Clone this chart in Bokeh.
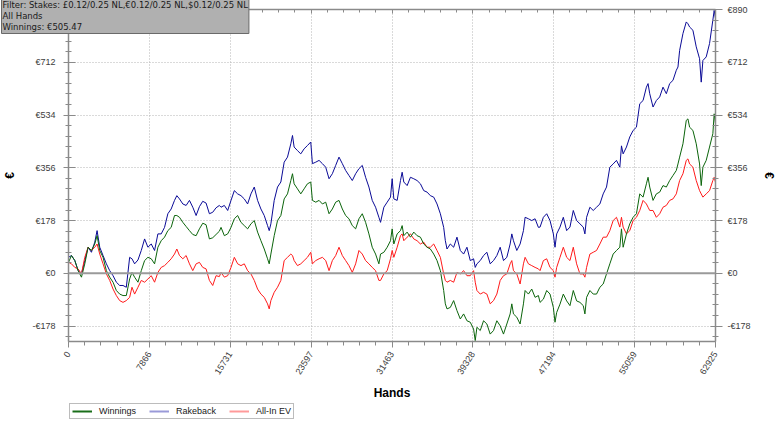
from bokeh.plotting import figure
from bokeh.models import (Range1d, FixedTicker, LinearAxis, Legend, LegendItem, Span, Title)
from bokeh.layouts import column
from bokeh.embed import file_html
from bokeh.resources import INLINE

# ---------------- data ----------------
TOTAL_HANDS = 62925
x_tick_labels = ["0", "7866", "15731", "23597", "31463", "39328", "47194", "55059", "62925"]
y_tick_values = [-178, 0, 178, 356, 534, 712, 890]
y_tick_labels = ["-€178", "€0", "€178", "€356", "€534", "€712", "€890"]

hands = [
    0, 291, 614, 937, 1261, 1584, 1907, 2230, 2553, 2780, 3038, 3361, 3685, 4008, 4331, 4654,
    4977, 5300, 5624, 5947, 6173, 6431, 6755, 7078, 7401, 7724, 8047, 8371, 8694, 9017, 9340,
    9663, 9987, 10310, 10536, 10795, 11118, 11441, 11764, 12087, 12411, 12734, 13057, 13380,
    13703, 14027, 14350, 14673,
    14835, 15158, 15481, 15805, 16128, 16451, 16774, 17097, 17421, 17744, 18067, 18390, 18713,
    19037, 19360, 19521, 19683, 20006, 20329, 20653, 20976, 21299, 21622, 21784, 21945, 22269,
    22592, 22915, 23238, 23561, 23723, 24046, 24369, 24693, 25016, 25339, 25662, 25985, 26309,
    26632, 26955, 27278, 27601, 27925, 28248, 28571, 28894, 29217, 29541, 29864, 30187,
    30348, 30671, 30994, 31318, 31479, 31641, 31964, 32287, 32449, 32610, 32934, 33257, 33580,
    33903, 34226, 34550, 34873, 35196, 35519, 35842, 36166, 36489, 36650, 36812, 37135, 37458,
    37782, 38105, 38428, 38751, 39074, 39398, 39559, 39721, 40044, 40367, 40690, 41014, 41337,
    41660, 41983, 42306, 42630, 42953, 43114, 43276, 43599, 43922, 44246, 44407, 44730, 45054,
    45377, 45700,
    45862, 46185, 46508, 46832, 47155, 47316, 47478, 47801, 48124, 48448, 48771, 49094, 49417,
    49740, 50064, 50225, 50387, 50710, 51033, 51356, 51680, 52003, 52326, 52649, 52972, 53296,
    53619, 53780, 53942, 54265, 54588, 54912, 55235, 55558, 55881, 56204, 56366, 56528, 56851,
    57174, 57497, 57820, 58144, 58467, 58790, 59113, 59275, 59436, 59760, 60083, 60244, 60406,
    60729, 61052, 61376, 61537, 61699, 62022, 62345, 62668, 62797, 62925,
]

winnings = [
    37, 60, 43, 9, -13, 32, 88, 77, 99, 127, 77, 54, 9, -13, -30, -58, -70, -75, -75, -19, 3,
    -13, -30, 9, 43, 54, 49, 32, 88, 110, 122, 144, 155, 195, 195, 189, 172, 158, 144, 131, 127,
    150, 169, 164, 116, 120, 131, 142,
    155, 127, 133, 155, 184, 195, 172, 161, 150, 167, 178, 139, 110, 82, 49, 32, 65, 127, 178,
    195, 251, 268, 313, 336, 302, 285, 268, 285, 302, 308, 246, 240, 246, 234, 240, 201, 217,
    240, 246, 217, 195, 184, 161, 150, 184, 201, 172, 133, 88, 65, 32,
    65, 71, 88, 110, 150, 99, 133, 144, 161, 127, 139, 122, 139, 127, 122, 99, 88, 82, 65, 43,
    9, -58, -103, -120, -115, -92, -126, -154, -137, -160, -165, -188, -227, -182, -193, -160,
    -171, -205, -193, -160, -177, -205, -171, -137, -103, -137, -148, -171, -103, -58, -70, -53,
    -81, -75,
    -98, -87, -58, -70, -115, -165, -132, -104, -70, -93, -109, -58, -93, -98, -109, -137, -81,
    -58, -70, -70, -47, -36, -2, 32, 65, 77, 88, 150, 88, 133, 167, 189, 201, 268, 257, 302,
    324, 291, 246, 268, 274, 296, 291, 313, 330, 347, 369, 392, 437, 516, 521, 493, 482, 437,
    369, 296, 358, 381, 426, 471, 538, 505,
]

rakeback = [
    54, 60, 43, 9, -2, 43, 88, 71, 105, 144, 88, 60, 32, 9, -8, -30, -41, -41, -47, 54, 49, 32,
    45, 77, 116, 88, 99, 77, 133, 133, 155, 201, 217, 246, 262, 251, 234, 229, 246, 223, 195,
    225, 243, 237, 201, 206, 221, 229,
    223, 229, 212, 246, 279, 268, 262, 251, 234, 268, 291, 246, 217, 195, 161, 144, 167, 246,
    291, 308, 375, 392, 437, 465, 426, 414, 403, 420, 431, 443, 370, 375, 381, 370, 358, 319,
    336, 364, 392, 370, 347, 330, 313, 336, 353, 364, 324, 291, 246, 223, 189,
    172, 223, 240, 257, 319, 251, 246, 313, 341, 308, 296, 324, 319, 313, 302, 279, 274, 262,
    257, 234, 201, 155, 110, 82, 99, 88, 122, 77, 65, 88, 43, 49, 20, 32, 43, 60, 71, 32, 43,
    60, 88, 43, 54, 99, 133, 110, 77, 99, 144, 189, 184, 178, 184, 155,
    156, 189, 201, 178, 133, 88, 133, 156, 189, 144, 156, 212, 178, 167, 156, 133, 189, 223,
    212, 223, 234, 268, 291, 358, 369, 381, 358, 430, 403, 426, 460, 482, 493, 572, 583, 628,
    640, 606, 561, 583, 595, 628, 606, 640, 651, 685, 696, 752, 809, 848, 842, 831, 820, 764,
    724, 645, 718, 730, 775, 854, 887, 860,
]

all_in_ev = [
    37, 32, 20, 15, -2, 54, 88, 77, 88, 99, 65, 32, -2, -24, -53, -75, -92, -98, -92, -81, -47,
    -70, -47, -24, -30, -19, -8, -30, 3, 20, 26, 37, 49, 65, 82, 60, 49, 60, 32, 9, 32, 37, 20,
    15, -24, -41, -8, -11,
    3, -13, -8, 20, 54, 32, 26, 32, 9, -2, -24, -53, -70, -81, -103, -120, -92, -64, -47, -24,
    43, 54, 65, 60, 43, 26, 32, 43, 54, 71, 32, 43, 49, 54, 43, 9, 43, 60, 88, 60, 43, 26, 3,
    32, 77, 65, 43, 32, 20, 9, -24,
    -24, -2, 9, 49, 77, 54, 88, 127, 133, 110, 122, 133, 116, 110, 99, 105, 88, 88, 99, 77, 54,
    -2, -24, -30, -24, -30, 3, -2, 9, -8, -8, 9, -30, -58, -70, -64, -70, -103, -92, -70, -24,
    -8, -2, 32, 43, 9, -2, -36, 32, 54, 32, 26, 20, 15,
    9, 43, 49, 20, 9, -13, 20, 54, 88, 54, 43, 88, 32, -2, -2, -13, 20, 65, 71, 77, 99, 122,
    122, 144, 178, 189, 156, 189, 156, 133, 144, 178, 189, 212, 246, 234, 223, 212, 212, 189,
    201, 223, 229, 246, 251, 268, 291, 313, 336, 381, 386, 369, 358, 313, 279, 268, 257, 268,
    279, 313, 324, 307,
]

series_names = ["Winnings", "Rakeback", "All-In EV"]
info_lines = ["Filter: Stakes: £0.12/0.25 NL,€0.12/0.25 NL,$0.12/0.25 NL",
              "All Hands", "Winnings: €505.47"]

# ---------------- ticks ----------------
x_ticks = [TOTAL_HANDS * i / 8 for i in range(9)]
x_minor = [TOTAL_HANDS * i / 40 for i in range(41)]
y_minor = [178 * i / 5 for i in range(-6, 26)]
x_over = {t: l for t, l in zip(x_ticks, x_tick_labels)}
y_over = {t: l for t, l in zip(y_tick_values, y_tick_labels)}

AX = "#8a8a8a"
LBL = "#3c3c3c"
FONT = "Liberation Sans"

p = figure(width=778, height=402, x_range=Range1d(0, TOTAL_HANDS), y_range=Range1d(-230, 890),
           output_backend="svg", toolbar_location=None,
           min_border_left=67, min_border_right=62, min_border_top=9, min_border_bottom=61,
           background_fill_color="white", border_fill_color="white", outline_line_color=None)

# grids
p.xgrid.ticker = FixedTicker(ticks=x_ticks)
p.ygrid.ticker = FixedTicker(ticks=y_tick_values)
for g in (p.xgrid, p.ygrid):
    g.grid_line_color = "#b4b4b4"
    g.grid_line_dash = "1 2"
    g.grid_line_width = 1

p.add_layout(Span(location=0, dimension="width", line_color="#9a9a9a", line_width=2))


def style_axis(ax):
    ax.axis_line_color = AX
    ax.axis_line_width = 1.5
    ax.major_tick_line_color = AX
    ax.minor_tick_line_color = AX
    ax.major_label_text_font = FONT
    ax.major_label_text_font_size = "9px"
    ax.major_label_text_color = LBL
    ax.axis_label_text_font = FONT
    ax.axis_label_text_font_size = "12px"
    ax.axis_label_text_font_style = "bold"
    ax.axis_label_text_color = "black"


# bottom axis
xa = p.xaxis[0]
xa.ticker = FixedTicker(ticks=x_ticks, minor_ticks=x_minor)
xa.major_label_overrides = x_over
xa.major_label_orientation = 1.0
xa.axis_label = "Hands"
style_axis(xa)
xa.major_tick_out = 6
xa.major_tick_in = 0
xa.minor_tick_out = 4
xa.minor_tick_in = 0
xa.major_label_standoff = 5
xa.axis_label_standoff = 6

# left axis
ya = p.yaxis[0]
ya.ticker = FixedTicker(ticks=y_tick_values, minor_ticks=y_minor)
ya.major_label_overrides = y_over
ya.axis_label = "€"
style_axis(ya)
ya.major_tick_out = 5
ya.major_tick_in = 7
ya.minor_tick_out = 3
ya.minor_tick_in = 3
ya.major_label_standoff = 8
ya.axis_label_standoff = 12

# right axis
ra = LinearAxis(ticker=FixedTicker(ticks=y_tick_values, minor_ticks=y_minor),
                major_label_overrides=y_over, axis_label="€")
style_axis(ra)
ra.major_tick_out = 7
ra.major_tick_in = 5
ra.minor_tick_out = 3
ra.minor_tick_in = 3
ra.major_label_standoff = 5
ra.axis_label_standoff = 8
try:
    ra.axis_label_orientation = "vertical"
except Exception:
    pass
p.add_layout(ra, "right")

# top axis (ticks only)
ta = LinearAxis(ticker=FixedTicker(ticks=x_ticks, minor_ticks=x_minor),
                major_label_overrides={t: "" for t in x_ticks})
style_axis(ta)
ta.major_label_text_font_size = "0px"
ta.major_label_standoff = 0
ta.major_tick_out = 0
ta.major_tick_in = 4
ta.minor_tick_out = 0
ta.minor_tick_in = 3
p.add_layout(ta, "above")

# series
p.line(hands, rakeback, line_color="#0a0a96", line_width=1)
p.line(hands, all_in_ev, line_color="#ff1a1a", line_width=1)
p.line(hands, winnings, line_color="#0b640b", line_width=1)

# info box in the top-left corner (a title annotation, so it is not clipped to the frame)
info = Title(text="\n".join(info_lines), align="left", vertical_align="bottom",
             offset=-67, standoff=-48, text_font="DejaVu Sans", text_font_size="8.5px",
             text_font_style="normal", text_color="#1a1a1a", text_line_height=1.12,
             background_fill_color="#b0b0b0", border_line_color="#6a6a6a",
             border_line_width=1, padding=1)
p.add_layout(info, "above")

# legend strip below the chart (its own small canvas)
pl = figure(width=778, height=19, x_range=Range1d(0, 1), y_range=Range1d(0, 1),
            output_backend="svg", toolbar_location=None, min_border=0,
            x_axis_location=None, y_axis_location=None,
            background_fill_color="white", border_fill_color="white", outline_line_color=None)
pl.grid.visible = False
lg_colors = ["#1a6e1a", "#9a9ad8", "#ff9a9a"]
dummies = [pl.line([0], [float("nan")], line_color=c, line_width=2) for c in lg_colors]
legend = Legend(items=[LegendItem(label=n, renderers=[r]) for n, r in zip(series_names, dummies)],
                orientation="horizontal", location=(1, 2))
legend.border_line_color = "#7a7a7a"
legend.border_line_width = 1.5
legend.background_fill_color = "white"
legend.background_fill_alpha = 1
legend.label_text_font = FONT
legend.label_text_font_size = "9px"
legend.label_text_color = "#202020"
legend.glyph_width = 20
legend.glyph_height = 8
legend.label_height = 8
legend.label_standoff = 7
legend.spacing = 13
legend.padding = 2
legend.margin = 0
pl.add_layout(legend)

layout = column(p, pl)
open("out.html", "w").write(file_html(layout, INLINE))
